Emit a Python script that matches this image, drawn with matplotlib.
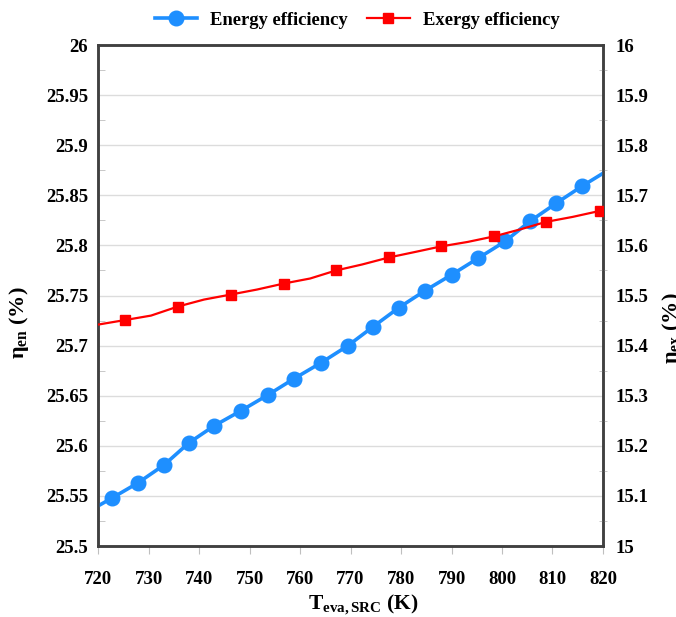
import matplotlib
matplotlib.use("Agg")
import matplotlib.pyplot as plt
from matplotlib.ticker import MultipleLocator

plt.rcParams['font.family'] = ['Liberation Serif', 'DejaVu Serif']
plt.rcParams['font.weight'] = 'bold'
plt.rcParams['mathtext.fontset'] = 'custom'
plt.rcParams['mathtext.rm'] = 'Liberation Serif:bold'
plt.rcParams['mathtext.it'] = 'Liberation Serif:bold'
plt.rcParams['mathtext.bf'] = 'Liberation Serif:bold'

# Energy efficiency (left axis)
t_en = [720.0, 722.8, 727.9, 733.1, 738.0, 743.0, 748.3, 753.7, 758.8, 764.2, 769.5,
        774.5, 779.6, 784.8, 790.1, 795.2, 800.6, 805.5, 810.7, 815.8, 820.0]
eta_en = [25.540, 25.548, 25.563, 25.581, 25.603, 25.620, 25.635, 25.651, 25.667, 25.683, 25.700,
          25.719, 25.738, 25.755, 25.771, 25.787, 25.804, 25.824, 25.842, 25.859, 25.872]
en_marks = list(range(1, 20))

# Exergy efficiency (right axis)
t_ex = [720.0, 725.3, 730.5, 735.8, 741.0, 746.3, 751.5, 756.8, 762.0, 767.1, 772.3,
        777.6, 782.8, 787.9, 793.2, 798.4, 803.6, 808.7, 814.0, 819.4, 820.0]
eta_ex = [15.442, 15.451, 15.460, 15.478, 15.492, 15.502, 15.512, 15.524, 15.534, 15.550, 15.562,
          15.576, 15.587, 15.598, 15.607, 15.618, 15.632, 15.647, 15.657, 15.669, 15.670]
ex_marks = [1, 3, 5, 7, 9, 11, 13, 15, 17, 19]

blue = '#1E8FFF'
red = '#FF0000'
spine_c = '#404040'

fig = plt.figure(figsize=(6.76, 6.17), dpi=100)
ax = fig.add_axes([0.145, 0.115, 0.747, 0.812])
ax2 = ax.twinx()

l1, = ax.plot(t_en, eta_en, color=blue, lw=2.6, marker='o', ms=10.5,
              markevery=en_marks, label='Energy efficiency', zorder=3)
l2, = ax2.plot(t_ex, eta_ex, color=red, lw=1.6, marker='s', ms=7.5,
               markevery=ex_marks, label='Exergy efficiency', zorder=3)

ax.set_xlim(720, 820)
ax.set_ylim(25.5, 26.0)
ax2.set_ylim(15.0, 16.0)
ax.xaxis.set_major_locator(MultipleLocator(10))
ax.yaxis.set_minor_locator(MultipleLocator(0.025))
ax2.yaxis.set_minor_locator(MultipleLocator(0.05))

ax.set_yticks([25.5 + 0.05 * i for i in range(11)])
ax.set_yticklabels(['25.5', '25.55', '25.6', '25.65', '25.7', '25.75', '25.8',
                    '25.85', '25.9', '25.95', '26'])
ax2.set_yticks([15.0 + 0.1 * i for i in range(11)])
ax2.set_yticklabels(['15', '15.1', '15.2', '15.3', '15.4', '15.5', '15.6',
                     '15.7', '15.8', '15.9', '16'])

ax.grid(axis='y', which='major', color='#DCDCDC', lw=1.0)
ax.set_axisbelow(True)

for a in (ax, ax2):
    for s in a.spines.values():
        s.set_color(spine_c)
        s.set_linewidth(1.8)

ax.tick_params(axis='x', which='major', direction='out', length=6, color='#BFBFBF',
               labelsize=13.5, pad=12)
ax.tick_params(axis='y', which='major', length=0, labelsize=13.5, pad=7)
ax.tick_params(axis='y', which='minor', direction='in', length=5, color='#BFBFBF')
ax2.tick_params(axis='y', which='major', length=0, labelsize=13.5, pad=9)
ax2.tick_params(axis='y', which='minor', direction='inout', length=6, color='#BFBFBF')

ax.set_xlabel(r'T$_{\mathregular{eva,SRC}}$ (K)', fontsize=15.5, fontweight='bold')
ax.xaxis.set_label_coords(0.525, -0.094)
ax.set_ylabel(r'η$_{\mathregular{en}}$ (%)', fontsize=16, fontweight='bold')
ax.yaxis.set_label_coords(-0.132, 0.445)
ax2.set_ylabel(r'η$_{\mathregular{ex}}$ (%)', fontsize=16, fontweight='bold', rotation=90)
ax2.yaxis.set_label_coords(1.113, 0.435)

fig.legend(handles=[l1, l2], loc='upper center', bbox_to_anchor=(0.528, 1.008), ncol=2,
           frameon=False, handlelength=2.3, columnspacing=1.0, handletextpad=0.7,
           prop={'weight': 'bold', 'size': 13.4})

fig.savefig('out.png', dpi=100)
